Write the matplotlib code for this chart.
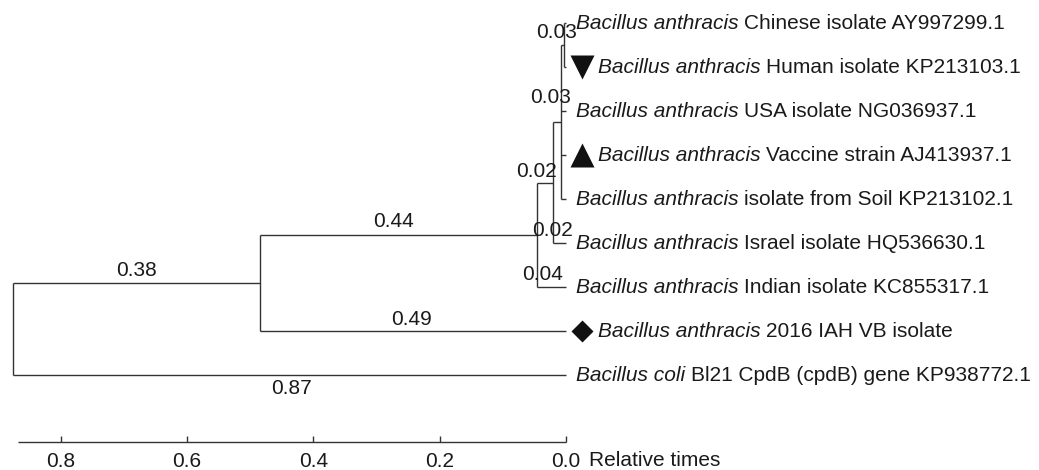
import matplotlib
matplotlib.use('Agg')
import matplotlib.pyplot as plt

plt.rcParams['font.family'] = ['Liberation Sans', 'DejaVu Sans']

# ---------------- data ----------------
# tips, top to bottom
tip_genus = ['Bacillus anthracis'] * 8 + ['Bacillus coli']
tip_desc = ['Chinese isolate AY997299.1',
            'Human isolate KP213103.1',
            'USA isolate NG036937.1',
            'Vaccine strain AJ413937.1',
            'isolate from Soil KP213102.1',
            'Israel isolate HQ536630.1',
            'Indian isolate KC855317.1',
            '2016 IAH VB isolate',
            'Bl21 CpdB (cpdB) gene KP938772.1']
tip_marker = [None, 'v', None, '^', None, None, None, 'D', None]

# internal nodes (children refer to tip indices or node names) and relative times
node_names = ['n4', 'n3', 'n2', 'n1', 'n0', 'root']
node_children = [[0, 1], ['n4', 2, 3, 4], ['n3', 5], ['n2', 6], ['n1', 7], ['n0', 8]]
node_times = [0.003, 0.008, 0.021, 0.046, 0.485, 0.875]

# branch labels (branch identified by its child)
branch_keys = ['n4', 2, 'n2', 5, 6, 'n1', 7, 'n0', 8]
branch_labels = ['0.03', '0.03', '0.02', '0.02', '0.04', '0.44', '0.49', '0.38', '0.87']

axis_ticks = [0.8, 0.6, 0.4, 0.2, 0.0]
axis_tick_labels = ['0.8', '0.6', '0.4', '0.2', '0.0']
axis_max = 0.868
axis_title = 'Relative times'

# ---------------- layout / style ----------------
label_offsets = {  # (dx, dy) in pixels relative to branch midpoint
    'n4': (-6, 13), 2: (-13, 14), 'n2': (-8, 11), 5: (-7, 13), 6: (-9, 13),
    'n1': (-5, 13), 7: (-1, 12), 'n0': (0, 12), 8: (2, -13)}
FS = 15
LC = '#333333'
TC = '#1a1a1a'
LW = 1.0

fig = plt.figure(figsize=(10.39, 4.70), dpi=100)
ax = fig.add_axes([0, 0, 1, 1])
ax.set_xlim(566 / 631.5, (566 - 1039) / 631.5)
ax.set_ylim((470 - 23) / 44, -23 / 44)
ax.axis('off')

# positions
ypos = {i: float(i) for i in range(len(tip_desc))}
xpos = {i: 0.0 for i in range(len(tip_desc))}
parent = {}
for name, ch, t in zip(node_names, node_children, node_times):
    ys = [ypos[c] for c in ch]
    ypos[name] = (min(ys) + max(ys)) / 2
    xpos[name] = t
    for c in ch:
        parent[c] = name

# draw tree
for name, ch in zip(node_names, node_children):
    ys = [ypos[c] for c in ch]
    ax.plot([xpos[name], xpos[name]], [min(ys), max(ys)], color=LC, lw=LW,
            solid_capstyle='butt')
    for c in ch:
        ax.plot([xpos[name], xpos[c]], [ypos[c], ypos[c]], color=LC, lw=LW,
                solid_capstyle='butt')

# branch labels
for key, lab in zip(branch_keys, branch_labels):
    p = parent[key]
    xm = (xpos[p] + xpos[key]) / 2
    dx, dy = label_offsets[key]
    ax.annotate(lab, xy=(xm, ypos[key]), xytext=(dx, dy), textcoords='offset pixels',
                ha='center', va='center', fontsize=FS, color=TC)

# tip labels and markers
space_px = 0.278 * FS * 100 / 72
for i, (g, d, m) in enumerate(zip(tip_genus, tip_desc, tip_marker)):
    if m is not None:
        ms = 17.5 if m in ('v', '^') else 11.2
        ax.plot([0], [i], marker=m, ms=ms, color='#111111', mec='none', ls='none',
                transform=matplotlib.transforms.offset_copy(ax.transData, fig, x=16, y=0, units='dots'))
        off = 32
    else:
        off = 10
    t1 = ax.annotate(g, xy=(0, i), xytext=(off, 0), textcoords='offset pixels',
                     ha='left', va='center', fontsize=FS, style='italic', color=TC)
    ax.annotate(d, xy=(1, 0), xycoords=t1, xytext=(space_px, 0), textcoords='offset pixels',
                ha='left', va='bottom', fontsize=FS, color=TC)

# scale axis
axis_y = (442 - 23) / 44
tick_len = 6 / 44
ax.plot([axis_max, 0], [axis_y, axis_y], color=LC, lw=LW, solid_capstyle='butt')
for t, lab in zip(axis_ticks, axis_tick_labels):
    ax.plot([t, t], [axis_y, axis_y - tick_len], color=LC, lw=LW, solid_capstyle='butt')
    ax.annotate(lab, xy=(t, axis_y), xytext=(0, -19), textcoords='offset pixels',
                ha='center', va='center', fontsize=FS, color=TC)
ax.annotate(axis_title, xy=(0, axis_y), xytext=(23, -18), textcoords='offset pixels',
            ha='left', va='center', fontsize=FS, color=TC)

fig.savefig('out.png', dpi=100)
